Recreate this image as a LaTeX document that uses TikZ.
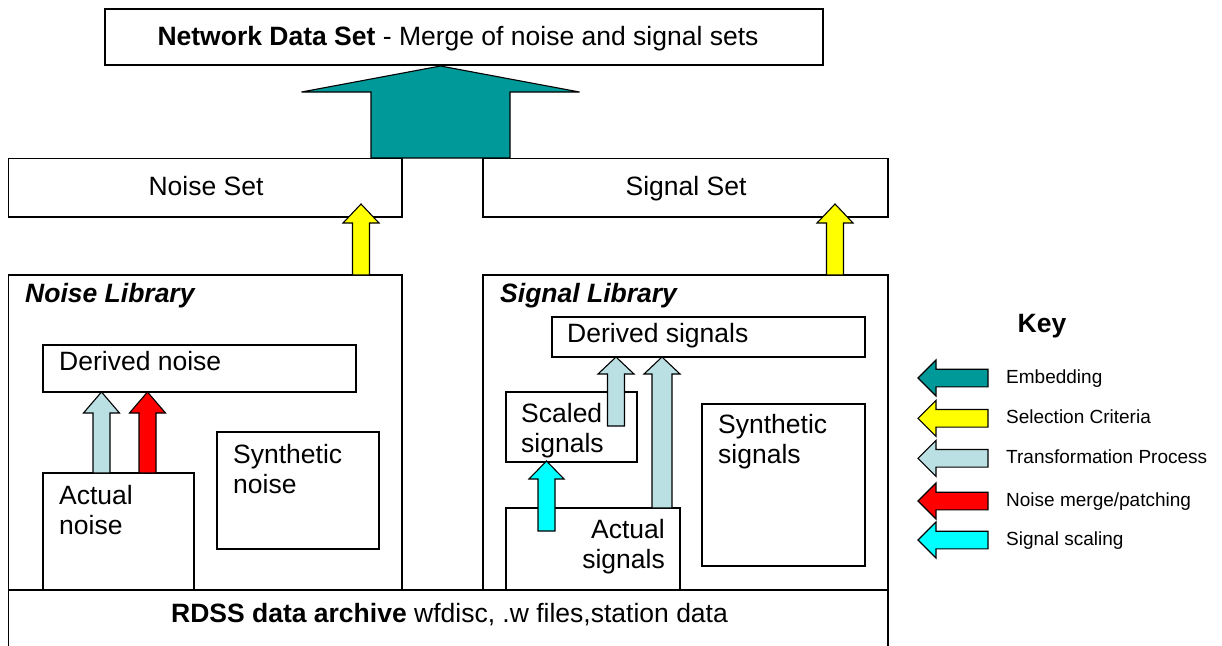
\documentclass[tikz,border=0pt]{standalone}
\usepackage{fontspec}
\setmainfont{Liberation Sans}
\usetikzlibrary{calc}
\definecolor{embteal}{RGB}{0,153,153}
\definecolor{transblue}{RGB}{187,224,227}
\definecolor{selyellow}{RGB}{255,255,0}
\definecolor{mergered}{RGB}{255,0,0}
\definecolor{scalecyan}{RGB}{0,255,255}
% up-pointing block arrow: x centre, bottom y, tip y, shaft half width, head half width, head length, colour
\newcommand{\blockup}[7]{\filldraw[blockarrow, fill=#7] (#1-#4,#2) -- (#1-#4,#3+#6) -- (#1-#5,#3+#6) -- (#1,#3) -- (#1+#5,#3+#6) -- (#1+#4,#3+#6) -- (#1+#4,#2) -- cycle;}
% left-pointing key arrow: y centre, colour
\newcommand{\keyarrow}[2]{\filldraw[blockarrow, fill=#2] (988,#1-8.8) -- (936,#1-8.8) -- (936,#1-18) -- (918,#1) -- (936,#1+18) -- (936,#1+8.8) -- (988,#1+8.8) -- cycle;}
% rectangle node from pixel corners
\newcommand{\boxnode}[5]{\node[box, minimum width={(#4-#2)*1pt}, minimum height={(#5-#3)*1pt}, anchor=north west] (#1) at (#2,#3) {};}
\tikzset{
  box/.style={draw=black, line width=1.2pt, fill=white, inner sep=0pt, outer sep=0pt},
  blockarrow/.style={draw=black, line width=1.1pt, line join=miter},
  maintext/.style={font=\fontsize{26.5}{29.5}\selectfont, inner sep=0pt, align=left},
  keytext/.style={font=\fontsize{19}{22}\selectfont, inner sep=0pt, anchor=base west},
}
\begin{document}
\begin{tikzpicture}[x=1pt,y=-1pt]
\clip (0,0) rectangle (1222,645);
\fill[white] (0,0) rectangle (1222,645);

% boxes
\boxnode{netset}{105}{9}{823}{65}
\boxnode{noiseset}{8.5}{158.5}{402}{217}
\boxnode{signalset}{483}{158.5}{888}{217}
\boxnode{noiselib}{8.5}{275}{402}{590}
\boxnode{signallib}{483}{275}{888}{590}
\boxnode{rdss}{8.5}{590}{888}{700}
\boxnode{derivednoise}{43}{345}{356}{392}
\boxnode{actualnoise}{43}{473}{194}{590}
\boxnode{synthnoise}{217}{432}{379}{549}
\boxnode{derivedsig}{552}{317}{865}{357}
\boxnode{scaledsig}{506}{392}{637}{462}
\boxnode{actualsig}{506}{508}{680}{590}
\boxnode{synthsig}{702}{404}{865}{566}
\draw[line width=1.2pt] (rdss.north west) -- (rdss.north east);

% texts (multi-line nodes are anchored at the baseline of their last line)
\node[maintext, anchor=base] (t-netset) at (458,45) {\textbf{Network Data Set} - Merge of noise and signal sets};
\node[maintext, anchor=base] (t-noiseset) at (206,195) {Noise Set};
\node[maintext, anchor=base] (t-signalset) at (686,195) {Signal Set};
\node[maintext, anchor=base west] (t-noiselib) at (25,302) {\textbf{\textit{Noise Library}}};
\node[maintext, anchor=base west] (t-signallib) at (500,302) {\textbf{\textit{Signal Library}}};
\node[maintext, anchor=base west] (t-derivednoise) at (59,370) {Derived noise};
\node[maintext, anchor=base west] (t-actualnoise) at (59,534) {Actual\\noise};
\node[maintext, anchor=base west] (t-synthnoise) at (233,493) {Synthetic\\noise};
\node[maintext, anchor=base west] (t-derivedsig) at (567,342) {Derived signals};
\node[maintext, anchor=base west] (t-scaledsig) at (521,452) {Scaled\\signals};
\node[maintext, anchor=base east, align=right] (t-actualsig) at (665,568) {Actual\\signals};
\node[maintext, anchor=base west] (t-synthsig) at (718,463) {Synthetic\\signals};
\node[maintext, anchor=base] (t-rdss) at (449.5,622) {\textbf{RDSS data archive} wfdisc, .w files,station data};

% block arrows
\blockup{440.5}{158}{66}{69.5}{139}{26}{embteal}
\blockup{361}{275}{204}{8.5}{18}{19}{selyellow}
\blockup{835}{275}{204}{8.5}{18}{19}{selyellow}
\blockup{101.5}{473}{392}{8.5}{18}{21}{transblue}
\blockup{147.5}{473}{392}{8.5}{18}{21}{mergered}
\blockup{616}{426}{357}{8.5}{18}{17}{transblue}
\blockup{662}{508}{357}{10}{18}{17}{transblue}
\blockup{546.5}{531}{461}{8.5}{17.5}{18}{scalecyan}

% key
\node[font=\fontsize{26.5}{29.5}\selectfont\bfseries, inner sep=0pt, anchor=base] (t-key) at (1042,332) {Key};
\keyarrow{378}{embteal}
\keyarrow{418.3}{selyellow}
\keyarrow{458.3}{transblue}
\keyarrow{501}{mergered}
\keyarrow{540}{scalecyan}
\node[keytext] (k-emb) at (1006,383.5) {Embedding};
\node[keytext] (k-sel) at (1006,423.8) {Selection Criteria};
\node[keytext] (k-trans) at (1006,463.8) {Transformation Process};
\node[keytext] (k-merge) at (1006,506.5) {Noise merge/patching};
\node[keytext] (k-scale) at (1006,545.5) {Signal scaling};
\end{tikzpicture}
\end{document}
